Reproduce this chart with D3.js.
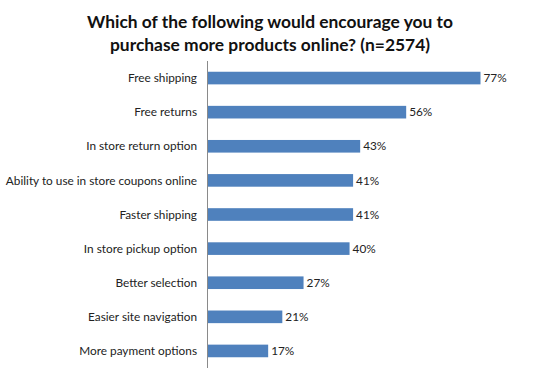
<!DOCTYPE html>
<html lang="en">
  <head>
    <meta charset="UTF-8" />
    <title>Encourage online purchases</title>
    <script src="https://d3js.org/d3.v7.min.js"></script>
    <style>
      body {
        margin: 0;
        background: #fff;
        font-family: 'Lato', 'Open Sans', sans-serif;
      }
      .title {
        font-weight: 700;
        font-size: 17.4px;
        fill: #111;
      }
      .cat-label,
      .val-label {
        font-size: 11.8px;
        fill: #222;
      }
      .bar {
        fill: #4f81bd;
      }
      .axis-line {
        stroke: #8a8a8a;
        stroke-width: 1px;
      }
    </style>
  </head>
  <body>
    <svg width="540" height="372"></svg>
    <script>
      const categories = [
        'Free shipping',
        'Free returns',
        'In store return option',
        'Ability to use in store coupons online',
        'Faster shipping',
        'In store pickup option',
        'Better selection',
        'Easier site navigation',
        'More payment options',
      ];
      const values = [77, 56, 43, 41, 41, 40, 27, 21, 17];
      const titleLines = [
        'Which of the following would encourage you to',
        'purchase more products online? (n=2574)',
      ];

      const svg = d3.select('svg');
      const width = +svg.attr('width');

      const x0 = 208;
      const x = d3.scaleLinear().domain([0, 77]).range([x0, 480.5]);
      const y = d3
        .scaleBand()
        .domain(categories)
        .range([61, 368])
        .paddingInner(0.63)
        .paddingOuter(0.315);

      svg
        .selectAll('.title')
        .data(titleLines)
        .enter()
        .append('text')
        .attr('class', 'title')
        .attr('x', width / 2)
        .attr('y', (d, i) => 28 + i * 23)
        .attr('text-anchor', 'middle')
        .text((d) => d);

      svg
        .selectAll('.bar')
        .data(categories)
        .enter()
        .append('rect')
        .attr('class', 'bar')
        .attr('x', x0)
        .attr('y', (d) => y(d))
        .attr('width', (d, i) => x(values[i]) - x0)
        .attr('height', y.bandwidth());

      svg
        .append('line')
        .attr('class', 'axis-line')
        .attr('x1', x0 - 0.5)
        .attr('x2', x0 - 0.5)
        .attr('y1', 61)
        .attr('y2', 368);

      svg
        .selectAll('.cat-label')
        .data(categories)
        .enter()
        .append('text')
        .attr('class', 'cat-label')
        .attr('x', 197)
        .attr('y', (d) => y(d) + y.bandwidth() / 2)
        .attr('dy', '0.35em')
        .attr('text-anchor', 'end')
        .text((d) => d);

      svg
        .selectAll('.val-label')
        .data(categories)
        .enter()
        .append('text')
        .attr('class', 'val-label')
        .attr('x', (d, i) => x(values[i]) + 3)
        .attr('y', (d) => y(d) + y.bandwidth() / 2)
        .attr('dy', '0.35em')
        .text((d, i) => values[i] + '%');
    </script>
  </body>
</html>
